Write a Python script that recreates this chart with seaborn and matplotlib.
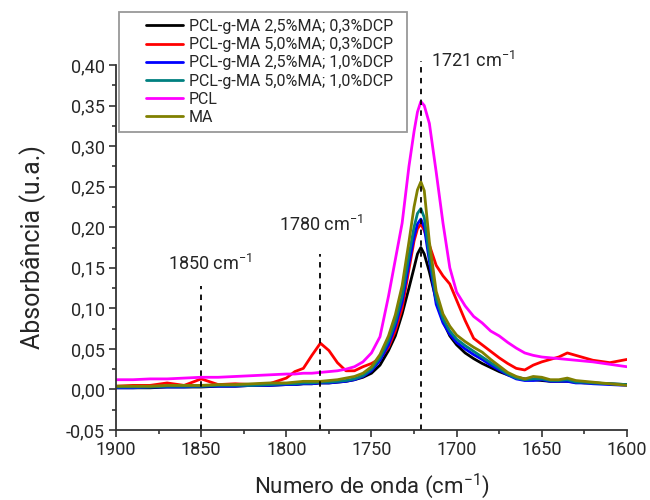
import matplotlib
matplotlib.use("Agg")
import matplotlib.pyplot as plt
from matplotlib.patches import Rectangle
from matplotlib.ticker import FuncFormatter, MultipleLocator
import seaborn as sns

# wavenumber grid (cm-1)
wn = [1900, 1890, 1880, 1870, 1860, 1850, 1840, 1830, 1820, 1810,
      1800, 1795, 1790, 1785, 1780, 1775, 1770, 1765, 1760, 1755,
      1750, 1745, 1740, 1736, 1732, 1728, 1725, 1723, 1721, 1719,
      1716, 1712, 1708, 1704, 1700, 1695, 1690, 1685, 1680, 1675,
      1670, 1665, 1660, 1655, 1650, 1645, 1640, 1635, 1630, 1625,
      1620, 1610, 1600]

ma25_dcp03 = [.002, .002, .002, .003, .003, .003, .004, .004, .005, .005,
              .006, .006, .007, .007, .008, .008, .009, .010, .012, .015,
              .020, .030, .048, .066, .093, .125, .150, .167, .175, .167,
              .145, .110, .084, .066, .055, .045, .038, .032, .027, .022,
              .018, .015, .013, .012, .011, .010, .010, .010, .009, .008,
              .008, .007, .006]
ma50_dcp03 = [.004, .005, .005, .008, .005, .013, .006, .007, .006, .007,
              .014, .022, .026, .042, .057, .048, .033, .023, .023, .028,
              .032, .038, .052, .072, .100, .148, .183, .198, .204, .196,
              .178, .153, .140, .130, .110, .085, .063, .055, .047, .039,
              .032, .026, .024, .030, .034, .037, .040, .045, .042, .039,
              .036, .033, .037]
ma25_dcp10 = [.002, .002, .003, .003, .003, .004, .004, .004, .005, .005,
              .006, .006, .007, .007, .008, .008, .009, .010, .012, .016,
              .023, .036, .055, .078, .108, .155, .188, .204, .210, .200,
              .158, .105, .082, .068, .058, .050, .043, .037, .030, .024,
              .018, .013, .011, .011, .012, .010, .010, .010, .008, .008,
              .007, .006, .005]
ma50_dcp10 = [.003, .003, .003, .004, .004, .004, .005, .005, .005, .006,
              .007, .007, .008, .008, .009, .009, .010, .011, .013, .017,
              .025, .039, .060, .083, .115, .165, .200, .217, .223, .212,
              .165, .112, .087, .072, .062, .054, .047, .040, .033, .026,
              .019, .014, .012, .013, .013, .011, .011, .012, .009, .009,
              .008, .007, .006]
pcl = [.012, .012, .013, .013, .014, .015, .015, .016, .017, .018,
       .019, .019, .020, .020, .021, .022, .023, .025, .028, .034,
       .045, .065, .115, .160, .205, .275, .318, .342, .355, .350,
       .328, .268, .205, .150, .120, .103, .090, .082, .072, .066,
       .058, .051, .045, .042, .040, .039, .038, .037, .036, .035,
       .034, .031, .028]
ma = [.004, .004, .004, .005, .005, .005, .006, .006, .007, .008,
      .008, .009, .010, .010, .010, .011, .012, .014, .016, .020,
      .028, .043, .066, .092, .128, .182, .225, .246, .256, .245,
      .182, .121, .093, .078, .067, .059, .052, .046, .037, .029,
      .021, .016, .013, .016, .015, .012, .012, .014, .011, .010,
      .009, .007, .005]

series = [
    ("PCL-g-MA 2,5%MA; 0,3%DCP", ma25_dcp03, "#000000"),
    ("PCL-g-MA 5,0%MA; 0,3%DCP", ma50_dcp03, "#ff0000"),
    ("PCL-g-MA 2,5%MA; 1,0%DCP", ma25_dcp10, "#0000ff"),
    ("PCL-g-MA 5,0%MA; 1,0%DCP", ma50_dcp10, "#008080"),
    ("PCL", pcl, "#ff00ff"),
    ("MA", ma, "#808000"),
]

# marked bands: position, dashed line top, label
bands = [1850, 1780, 1721]
band_tops = [0.128, 0.167, 0.405]
band_labels = ["1850 cm$^{-1}$", "1780 cm$^{-1}$", "1721 cm$^{-1}$"]

sns.set_theme(style="ticks")
plt.rcParams["font.family"] = ["Roboto", "DejaVu Sans"]
plt.rcParams["mathtext.fontset"] = "custom"
plt.rcParams["mathtext.rm"] = "Roboto"

fig = plt.figure(figsize=(6.5, 5), dpi=100)
ax = fig.add_axes([0.1785, 0.14, 0.786, 0.73])

for name, vals, col in series:
    sns.lineplot(x=wn, y=vals, color=col, lw=2, label=name, ax=ax)

for b, top in zip(bands, band_tops):
    ax.plot([b, b], [-0.05, top], color="black", ls=(0, (3, 3)), lw=1.3,
            clip_on=False)

ax.text(1845, 0.142, band_labels[0], ha="center", va="bottom", fontsize=13)
ax.text(1779.5, 0.19, band_labels[1], ha="center", va="bottom", fontsize=13)
ax.text(1715, 0.393, band_labels[2], ha="left", va="bottom", fontsize=13)

ax.set_xlim(1900, 1600)
ax.set_ylim(-0.05, 0.40)
ax.xaxis.set_major_locator(MultipleLocator(50))
ax.xaxis.set_minor_locator(MultipleLocator(25))
ax.yaxis.set_major_locator(MultipleLocator(0.05))
ax.yaxis.set_minor_locator(MultipleLocator(0.025))
ax.yaxis.set_major_formatter(FuncFormatter(lambda v, p: f"{v:.2f}".replace(".", ",")))
ax.tick_params(axis="both", which="major", labelsize=13, length=5, width=1.2,
               color="#333333", direction="out", pad=3)
ax.tick_params(axis="both", which="minor", length=3, width=1.2, color="#333333")

sns.despine(ax=ax)
for s in ("left", "bottom"):
    ax.spines[s].set_color("#333333")
    ax.spines[s].set_linewidth(1.3)

ax.set_xlabel("Numero de onda (cm$^{-1}$)", fontsize=16, labelpad=9)
ax.set_ylabel("Absorbância (u.a.)", fontsize=18, labelpad=14)

# legend box drawn in figure pixels, entries placed frameless on top of it
handles, labels = ax.get_legend_handles_labels()
ax.get_legend().remove()
fig.patches.append(Rectangle((119 / 650, 1 - 132 / 500), 288 / 650, 120 / 500,
                             transform=fig.transFigure, facecolor="white",
                             edgecolor="#999999", lw=1.3, zorder=5))
leg = fig.legend(handles, labels, loc="upper left",
                 bbox_to_anchor=(146 / 650, 1 - 19 / 500), fontsize=11.5,
                 frameon=False, handlelength=2.3, handletextpad=0.4,
                 labelspacing=0.2, borderpad=0, borderaxespad=0)
leg.set_zorder(6)

fig.savefig("out.png", dpi=100)
